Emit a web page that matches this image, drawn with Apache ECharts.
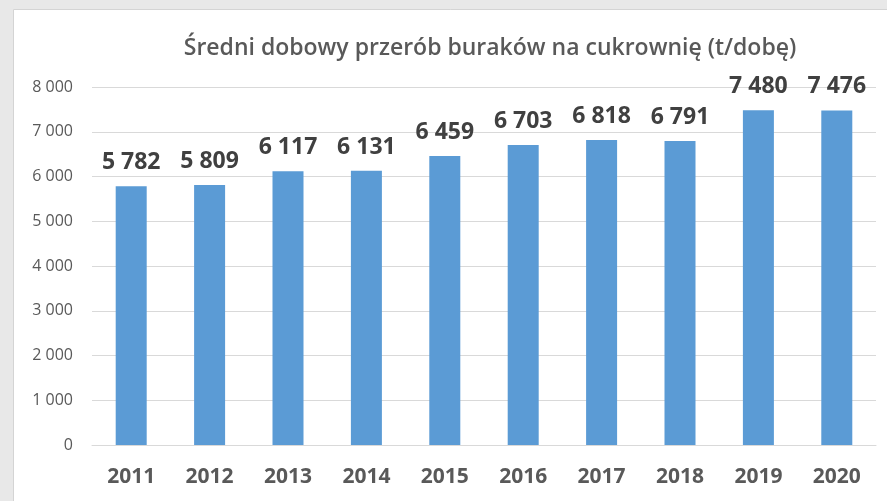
<!DOCTYPE html>
<html><head><meta charset="utf-8">
<script src="https://cdn.jsdelivr.net/npm/echarts@6/dist/echarts.min.js"></script>
<style>html,body{margin:0;padding:0;background:#e8e8e8}#c{width:887px;height:501px}</style>
</head><body><div id="c"></div>
<script>
const title = 'Średni dobowy przerób buraków na cukrownię (t/dobę)';
const categories = ['2011','2012','2013','2014','2015','2016','2017','2018','2019','2020'];
const values = [5782, 5809, 6117, 6131, 6459, 6703, 6818, 6791, 7480, 7476];
const yTicks = [0, 1000, 2000, 3000, 4000, 5000, 6000, 7000, 8000];

const fmt = v => String(v).replace(/\B(?=(\d{3})+(?!\d))/g, ' ');
const chart = echarts.init(document.getElementById('c'));
chart.setOption({
  backgroundColor: '#e8e8e8',
  animation: false,
  graphic: [{
    type: 'rect', left: 13, top: 9, z: -10,
    shape: {width: 880, height: 500},
    style: {fill: '#ffffff', stroke: '#d4d4d4', lineWidth: 1}
  }],
  title: {
    text: title, left: 485, top: 32, textAlign: 'center',
    textStyle: {fontFamily: 'Open Sans', fontSize: 23, fontWeight: 600, color: '#595959'}
  },
  grid: {left: 92, right: 11, top: 87, bottom: 56, containLabel: false},
  xAxis: {
    type: 'category', data: categories,
    axisLine: {lineStyle: {color: '#d9d9d9', width: 1}},
    axisTick: {show: false},
    axisLabel: {margin: 22, fontFamily: 'Open Sans', fontSize: 21, fontWeight: 'bold', color: '#595959'}
  },
  yAxis: {
    type: 'value', min: yTicks[0], max: yTicks[yTicks.length-1], interval: 1000,
    axisLine: {show: false}, axisTick: {show: false},
    splitLine: {lineStyle: {color: '#d9d9d9', width: 1}},
    axisLabel: {margin: 19, fontFamily: 'Open Sans', fontSize: 16, color: '#595959', formatter: fmt}
  },
  series: [{
    type: 'bar', data: values, barWidth: 31,
    itemStyle: {color: '#5b9bd5'},
    label: {show: true, position: 'top', distance: 12, formatter: p => fmt(p.value),
      fontFamily: 'Open Sans', fontSize: 23, fontWeight: 'bold', color: '#404040'}
  }]
});
</script></body></html>
